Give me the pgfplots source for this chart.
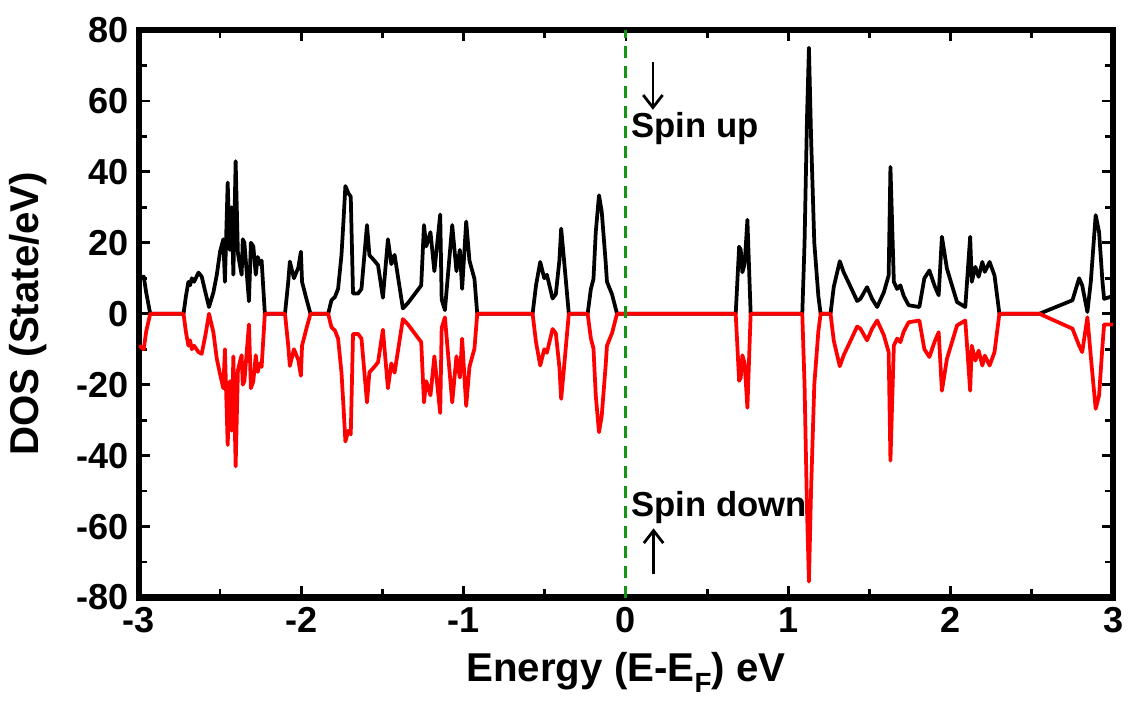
\documentclass[border=0pt]{standalone}
\usepackage{fontspec}
\setmainfont{Liberation Sans}
\usepackage{pgfplots}
\pgfplotsset{compat=1.18}
\usetikzlibrary{arrows.meta}
\definecolor{fermigreen}{RGB}{20,150,20}

\begin{document}
\begin{tikzpicture}
\begin{axis}[
  scale only axis,
  width=351pt, height=204.5pt,
  xmin=-3, xmax=3, ymin=-80, ymax=80,
  xtick={-3,-2,-1,0,1,2,3},
  ytick={-80,-60,-40,-20,0,20,40,60,80},
  minor x tick num=1, minor y tick num=1,
  axis line style={line width=2.2pt},
  every tick/.style={black, line width=1pt},
  major tick length=4pt, minor tick length=3pt,
  /pgf/number format/assume math mode=true,
  tick label style={font=\fontsize{13}{15}\selectfont\bfseries},
  label style={font=\fontsize{14.5}{17}\selectfont\bfseries},
  xlabel={Energy (E-E\raisebox{-0.55ex}{\fontsize{10}{12}\selectfont F}) eV},
  ylabel={DOS (State/eV)},
  ylabel shift=4pt,
]
% spin up
\addplot[black, line width=1.35pt, line join=round] coordinates {
(-3.000,10) (-2.970,10.5) (-2.955,6) (-2.930,0) (-2.725,0) (-2.710,5) (-2.695,9) (-2.685,8) (-2.674,10) (-2.660,9) (-2.633,11.6) (-2.613,10.5) (-2.590,6) (-2.568,1.9) (-2.541,6) (-2.520,11) (-2.500,17.5) (-2.480,21) (-2.470,9) (-2.453,37) (-2.440,18) (-2.428,30) (-2.418,11) (-2.404,43) (-2.390,17) (-2.375,13) (-2.367,11) (-2.360,21) (-2.350,20) (-2.322,3.5) (-2.310,20) (-2.295,19) (-2.280,11) (-2.268,16) (-2.255,14) (-2.244,15) (-2.224,0)
(-2.100,0) (-2.080,9) (-2.070,14.7) (-2.045,10) (-2.018,13) (-2.002,17.5) (-1.995,9) (-1.967,4) (-1.943,0)
(-1.834,0) (-1.814,3.8) (-1.793,4.7) (-1.773,7) (-1.752,16.6) (-1.740,26) (-1.728,36) (-1.710,34) (-1.695,33) (-1.681,5.7) (-1.650,5.7) (-1.629,7) (-1.595,25) (-1.580,16.5) (-1.550,15) (-1.527,13.7) (-1.497,4.5) (-1.466,21) (-1.445,14) (-1.425,16.6) (-1.374,1.5) (-1.343,3) (-1.261,8) (-1.244,25) (-1.230,19) (-1.204,23) (-1.180,12) (-1.144,28) (-1.135,4) (-1.115,1) (-1.070,25) (-1.044,12) (-1.023,18) (-1.009,7) (-0.984,26) (-0.964,15) (-0.933,9.8) (-0.916,0)
(-0.575,0) (-0.554,8) (-0.528,14.6) (-0.503,10) (-0.487,11) (-0.452,4.3) (-0.432,5.5) (-0.410,15) (-0.399,24) (-0.383,16) (-0.352,0)
(-0.236,0) (-0.216,7) (-0.200,9.8) (-0.186,23) (-0.166,33.4) (-0.149,28.7) (-0.125,14.6) (-0.117,9) (-0.086,5.5) (-0.055,0)
(0.676,0) (0.697,18.9) (0.707,18) (0.717,11.7) (0.731,14) (0.748,26.5) (0.768,0)
(1.086,0) (1.100,20) (1.115,55) (1.127,75) (1.140,50) (1.160,20) (1.185,5) (1.199,0)
(1.260,0) (1.280,7.6) (1.317,14.8) (1.341,11.7) (1.372,8.7) (1.424,3.6) (1.444,4.2) (1.485,7.5) (1.516,4.2) (1.547,1.9) (1.588,6) (1.618,10.8) (1.629,41.4) (1.650,9) (1.670,7) (1.690,8) (1.711,5) (1.741,2.4) (1.807,1.9) (1.838,10) (1.869,12.2) (1.900,8) (1.926,5.2) (1.946,21.7) (1.977,12.7) (2.039,3.3) (2.090,1.9) (2.120,21.7) (2.130,9) (2.152,13.2) (2.172,10.4) (2.195,14.6) (2.210,11.8) (2.240,14.6) (2.270,10.8) (2.300,0)
(2.546,0) (2.750,3.8) (2.791,10) (2.810,8) (2.842,0.5) (2.863,9) (2.893,27.8) (2.914,23) (2.935,9) (2.945,4.2) (3.000,5)
};
% spin down
\addplot[red, line width=1.35pt, line join=round] coordinates {
(-3.000,-9) (-2.970,-10) (-2.955,-5) (-2.930,0) (-2.725,0) (-2.710,-5.2) (-2.695,-9) (-2.685,-7.5) (-2.674,-10) (-2.660,-9) (-2.633,-10.8) (-2.613,-11.3) (-2.590,-6) (-2.568,0) (-2.541,-5.2) (-2.520,-12.7) (-2.500,-17) (-2.480,-21) (-2.470,-10) (-2.453,-37) (-2.440,-19) (-2.428,-33) (-2.418,-12) (-2.404,-43) (-2.390,-16) (-2.375,-13) (-2.367,-11.7) (-2.360,-20) (-2.350,-19) (-2.322,-3) (-2.310,-21) (-2.295,-19) (-2.280,-11.7) (-2.268,-16.4) (-2.255,-14) (-2.244,-15) (-2.224,0)
(-2.100,0) (-2.080,-9) (-2.070,-14.7) (-2.045,-10) (-2.018,-13) (-2.002,-17.5) (-1.995,-9) (-1.967,-4) (-1.943,0)
(-1.834,0) (-1.814,-3.8) (-1.793,-4.7) (-1.773,-7) (-1.752,-16.6) (-1.740,-26) (-1.728,-36) (-1.710,-33) (-1.695,-34) (-1.681,-5.7) (-1.650,-5.7) (-1.629,-7) (-1.595,-25) (-1.580,-16.5) (-1.550,-15) (-1.527,-13.7) (-1.497,-4.5) (-1.466,-21) (-1.445,-14) (-1.425,-16.6) (-1.374,-1.5) (-1.343,-3) (-1.261,-8) (-1.244,-25) (-1.230,-19) (-1.204,-23) (-1.180,-12) (-1.144,-28) (-1.135,-4) (-1.115,-1) (-1.070,-25) (-1.044,-12) (-1.023,-18) (-1.009,-7) (-0.984,-26) (-0.964,-15) (-0.933,-9.8) (-0.916,0)
(-0.575,0) (-0.554,-8) (-0.528,-14.6) (-0.503,-10) (-0.487,-11) (-0.452,-4.3) (-0.432,-5.5) (-0.410,-15) (-0.399,-24) (-0.383,-16) (-0.352,0)
(-0.236,0) (-0.216,-7) (-0.200,-9.8) (-0.186,-23) (-0.166,-33.4) (-0.149,-28.7) (-0.125,-14.6) (-0.117,-9) (-0.086,-5.5) (-0.055,0)
(0.676,0) (0.697,-18.9) (0.707,-18) (0.717,-11.7) (0.731,-14) (0.748,-26.5) (0.768,0)
(1.086,0) (1.100,-20) (1.115,-55) (1.127,-75.5) (1.140,-50) (1.160,-20) (1.185,-5) (1.199,0)
(1.260,0) (1.280,-7.6) (1.317,-14.8) (1.341,-11.7) (1.372,-8.7) (1.424,-3.6) (1.444,-4.2) (1.485,-7.5) (1.516,-4.2) (1.547,-1.9) (1.588,-6) (1.618,-10.8) (1.629,-41.4) (1.650,-9) (1.670,-7) (1.690,-8) (1.711,-5) (1.741,-2.4) (1.807,-1.9) (1.838,-10) (1.869,-12.2) (1.900,-8) (1.926,-5.2) (1.946,-21.7) (1.977,-12.7) (2.039,-3.3) (2.090,-1.9) (2.120,-21.7) (2.130,-9) (2.152,-13.2) (2.172,-10.4) (2.195,-14.6) (2.210,-11.8) (2.240,-14.6) (2.270,-10.8) (2.300,0)
(2.546,0) (2.750,-4.2) (2.791,-9) (2.810,-10.8) (2.842,-1) (2.863,-12) (2.893,-26.8) (2.914,-23) (2.935,-9) (2.945,-3) (3.000,-3)
};
% Fermi level
\addplot[fermigreen, line width=1.1pt, dash pattern=on 4.3pt off 2.9pt] coordinates {(0,-80) (0,80)};

\draw[line width=1pt, -{Straight Barb[length=4.5pt,width=7pt,line width=1pt]}] (axis cs:0.166,71) -- (axis cs:0.166,57.5);
\node[anchor=west, inner sep=0pt, font=\fontsize{12.5}{15}\selectfont\bfseries] at (axis cs:0.03,52.3) {Spin up};
\node[anchor=west, inner sep=0pt, font=\fontsize{12.5}{15}\selectfont\bfseries] at (axis cs:0.03,-54.5) {Spin down};
\draw[line width=1pt, -{Straight Barb[length=4.5pt,width=7pt,line width=1pt]}] (axis cs:0.17,-73.5) -- (axis cs:0.17,-60.5);

\coordinate (bbSW) at (rel axis cs:-0.1404,-0.1884);
\coordinate (bbNE) at (rel axis cs:1.0205,1.0528);
\end{axis}
\path (bbSW) rectangle (bbNE);
\end{tikzpicture}
\end{document}
